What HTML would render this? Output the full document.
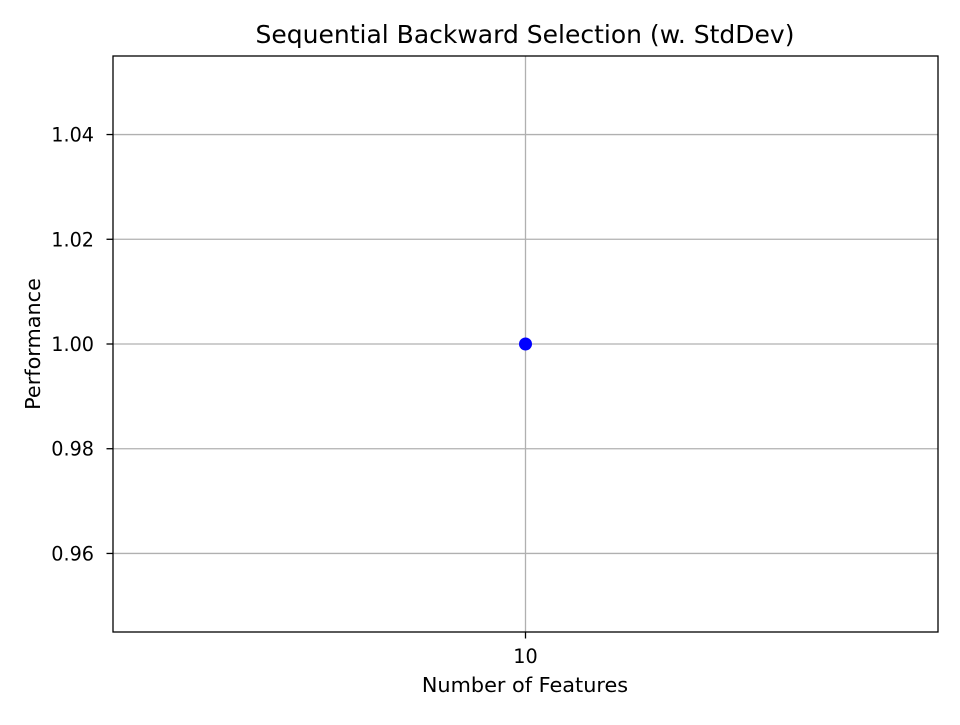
<!DOCTYPE html>
<html><head><meta charset="utf-8"><style>
html,body{margin:0;padding:0;background:#fff;}
svg text{font-family:"DejaVu Sans","Liberation Sans",sans-serif;fill:#000;}
</style></head><body>
<svg id="chart" width="960" height="720" viewBox="0 0 960 720" xmlns="http://www.w3.org/2000/svg">
<rect width="960" height="720" fill="#fff"/>
<g id="grid"></g>
<g id="marks"></g>
<rect x="113" y="56" width="825" height="576" fill="none" stroke="#000" stroke-width="1.3"/>
<g id="axes"></g>
<text x="525" y="43" font-size="25" text-anchor="middle">Sequential Backward Selection (w. StdDev)</text>
<text x="525" y="692" font-size="20.8" text-anchor="middle">Number of Features</text>
<text x="40" y="344" font-size="20.8" text-anchor="middle" transform="rotate(-90 40 344)">Performance</text>
</svg>
<script>
const categories = [10];
const values = [1.0];
const yTicks = [0.96, 0.98, 1.00, 1.02, 1.04];
const yTickLabels = ["0.96", "0.98", "1.00", "1.02", "1.04"];
const xTickLabels = ["10"];

const L=113,R=938,T=56,B=632;
const yMin=0.945,yMax=1.055,xMin=9.945,xMax=10.055;
const ys=v=>B-(v-yMin)/(yMax-yMin)*(B-T);
const xs=v=>L+(v-xMin)/(xMax-xMin)*(R-L);
const NS="http://www.w3.org/2000/svg";
const grid=document.getElementById('grid'),axes=document.getElementById('axes'),marks=document.getElementById('marks');
function mk(t,a,p){const e=document.createElementNS(NS,t);for(const k in a)e.setAttribute(k,a[k]);p.appendChild(e);return e;}
yTicks.forEach((v,i)=>{
  const y=ys(v);
  const g=mk('line',{x1:L,x2:R,y1:y,y2:y,stroke:'#b0b0b0','stroke-width':1.3},grid);
  
  
  const t=mk('line',{x1:L-6.5,x2:L,y1:y,y2:y,stroke:'#000','stroke-width':1.3},axes);
  
  
  const lb=mk('text',{x:L-19,y:y+7,'font-size':19.2,'text-anchor':'end'},axes);
  lb.textContent=yTickLabels[i];
  
  
});
categories.forEach((c,i)=>{
  const x=xs(c);
  const g=mk('line',{x1:x,x2:x,y1:T,y2:B,stroke:'#b0b0b0','stroke-width':1.3},grid);
  
  
  const t=mk('line',{x1:x,x2:x,y1:B,y2:B+6.5,stroke:'#000','stroke-width':1.3},axes);
  
  
  const lb=mk('text',{x:x,y:B+31,'font-size':19.2,'text-anchor':'middle'},axes);
  lb.textContent=xTickLabels[i];
  
  
  const p=mk('circle',{cx:x,cy:ys(values[i]),r:6.5,fill:'#0000ff'},marks);
  
  
});
</script>
</body></html>
